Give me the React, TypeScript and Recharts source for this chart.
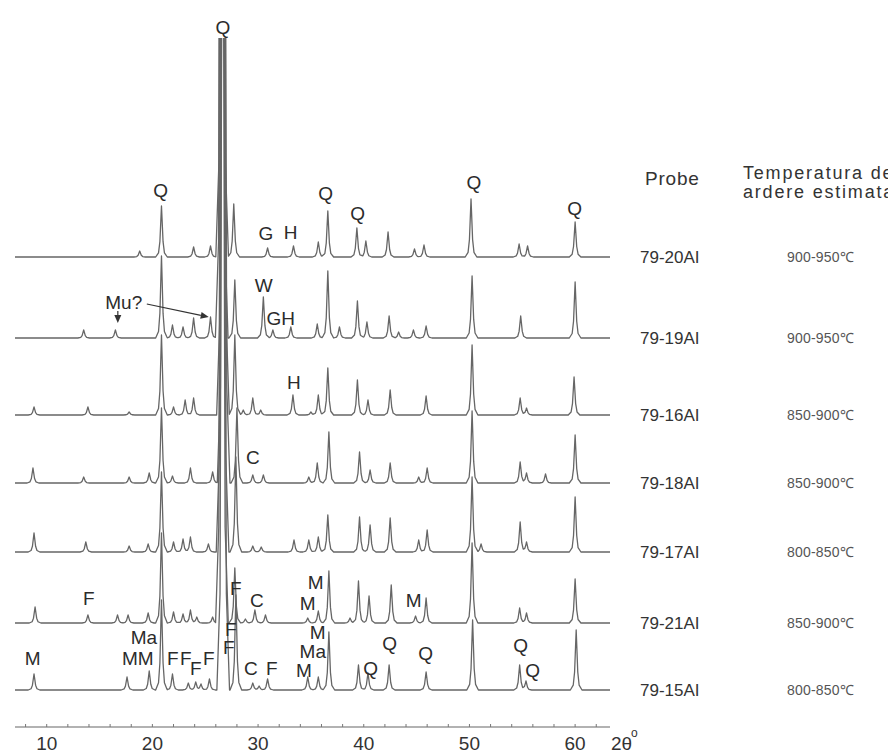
import React from 'react';
import { ComposedChart, Line, XAxis, YAxis, ReferenceDot, ReferenceLine } from 'recharts';

document.body.style.margin = '0';

const X_MIN = 7.0;
const X_MAX = 63.3;
const Y_MAX = 689;

const SAMPLES = ['79-20AI', '79-19AI', '79-16AI', '79-18AI', '79-17AI', '79-21AI', '79-15AI'];
const TEMPERATURES = ['900-950℃', '900-950℃', '850-900℃', '850-900℃', '800-850℃', '850-900℃', '800-850℃'];
// vertical offset of each pattern (stacked)
const BASELINES = [470, 389, 312, 244, 175, 104, 37];

// quartz 101 reflection runs off the top of the plot
const MAIN = 1200;

// [2θ, intensity]
const P_79_20 = [
  [18.8, 6], [20.86, 51], [23.9, 10], [25.5, 11], [26.6, MAIN], [27.7, 53], [30.9, 9],
  [33.35, 11], [35.7, 15], [36.6, 46], [39.35, 29], [40.2, 16], [42.3, 25], [44.8, 8],
  [45.7, 12], [50.15, 58], [54.7, 13], [55.5, 11], [60.0, 35],
];
const P_79_19 = [
  [13.5, 8], [16.5, 8], [20.86, 82], [21.9, 13], [22.9, 11], [23.9, 20], [25.5, 21],
  [26.56, MAIN], [27.8, 58], [30.5, 41], [31.4, 8], [33.1, 11], [35.6, 14], [36.6, 67],
  [37.7, 11], [39.4, 37], [40.3, 16], [42.4, 22], [43.3, 6], [44.7, 8], [45.9, 12],
  [50.25, 62], [54.85, 22], [60.0, 56],
];
const P_79_16 = [
  [8.8, 8], [13.9, 8], [17.8, 3], [20.86, 80], [22.0, 8], [23.1, 15], [23.9, 17],
  [26.68, MAIN], [27.8, 80], [28.6, 5], [29.5, 17], [30.25, 5], [33.3, 20], [35.0, 3],
  [35.7, 20], [36.6, 47], [39.4, 35], [40.4, 15], [42.5, 25], [45.9, 19], [50.25, 70],
  [54.8, 17], [55.4, 7], [59.9, 38],
];
const P_79_18 = [
  [8.7, 15], [13.5, 6], [17.8, 6], [19.7, 10], [20.86, 75], [21.9, 7], [23.6, 15],
  [25.7, 11], [26.74, MAIN], [28.0, 75], [29.5, 8], [30.5, 8], [34.8, 6], [35.6, 20],
  [36.7, 51], [39.6, 31], [40.6, 13], [42.5, 20], [45.2, 6], [46.0, 15], [50.25, 72],
  [54.8, 21], [55.4, 10], [57.2, 9], [60.0, 48],
];
const P_79_17 = [
  [8.8, 19], [13.7, 10], [17.8, 6], [19.6, 8], [20.86, 80], [22.0, 10], [22.9, 13],
  [23.6, 15], [25.3, 8], [26.64, MAIN], [27.9, 95], [29.5, 6], [30.3, 5], [33.4, 12],
  [34.8, 12], [35.7, 15], [36.6, 37], [39.6, 35], [40.6, 27], [42.5, 34], [45.2, 12],
  [46.0, 22], [50.25, 75], [51.1, 8], [54.8, 30], [55.4, 10], [60.0, 55],
];
const P_79_21 = [
  [8.9, 16], [13.9, 8], [16.7, 8], [17.7, 8], [19.6, 10], [20.86, 90], [22.0, 11],
  [22.9, 9], [23.6, 13], [24.2, 6], [25.7, 6], [26.58, MAIN], [27.8, 55], [28.8, 4],
  [29.7, 13], [30.7, 8], [34.7, 5], [35.7, 12], [36.7, 52], [38.7, 5], [39.5, 42],
  [40.5, 27], [42.6, 38], [44.9, 7], [45.9, 25], [50.25, 80], [54.75, 15], [55.4, 10],
  [60.0, 44],
];
const P_79_15 = [
  [8.8, 16], [17.6, 13], [19.7, 19], [20.86, 90], [21.9, 16], [23.4, 7], [24.1, 8],
  [24.6, 6], [25.4, 11], [26.7, MAIN], [27.9, 95], [29.5, 7], [30.1, 4], [30.9, 11],
  [34.7, 13], [35.7, 13], [36.7, 58], [39.5, 25], [40.4, 17], [42.4, 25], [45.9, 18],
  [50.3, 70], [54.75, 25], [55.35, 9], [60.1, 60],
];
const PEAKS = [P_79_20, P_79_19, P_79_16, P_79_18, P_79_17, P_79_21, P_79_15];

// phase labels: [text, 2θ, y]
const LABELS: [string, number, number][] = [
  ['Q', 26.66, 700], ['Q', 20.79, 537], ['G', 30.73, 494], ['H', 33.09, 495],
  ['Q', 36.4, 534], ['Q', 39.43, 514], ['Q', 50.41, 545], ['Q', 59.96, 519],
  ['W', 30.54, 442], ['GH', 32.15, 409], ['Mu?', 17.29, 425], ['H', 33.38, 345],
  ['C', 29.5, 270], ['F', 13.98, 129], ['F', 27.89, 139], ['C', 29.88, 127],
  ['M', 35.46, 145], ['M', 34.7, 124], ['M', 44.73, 127], ['Ma', 19.19, 90],
  ['MM', 18.62, 69], ['M', 8.68, 69], ['F', 21.93, 69], ['F', 23.16, 69],
  ['F', 24.1, 59], ['F', 25.33, 69], ['F', 27.42, 98], ['F', 27.23, 80],
  ['C', 29.31, 59], ['F', 31.3, 59], ['M', 35.65, 95], ['Ma', 35.18, 76],
  ['M', 34.33, 57], ['Q', 40.65, 59], ['Q', 42.45, 84], ['Q', 45.86, 74],
  ['Q', 54.85, 82], ['Q', 55.99, 57],
];

const ARROWS = [
  [[19.47, 423], [25.33, 410]],
  [[16.73, 416], [16.73, 404]],
];

const X_TICKS = [8, 10, 12, 14, 16, 18, 20, 22, 24, 26, 28, 30, 32, 34, 36, 38, 40, 42, 44, 46, 48, 50, 52, 54, 56, 58, 60, 62];

const PEAK_SHAPE = [[-0.55, 0], [-0.28, 0.08], [-0.15, 0.3], [0, 1], [0.15, 0.3], [0.28, 0.08], [0.55, 0]];
const MAIN_SHAPE = [[-0.6, 0], [-0.3, 0.08], [0, 1], [0.3, 0.08], [0.6, 0]];

function profile(shape: number[][], d: number) {
  if (d <= shape[0][0] || d >= shape[shape.length - 1][0]) return 0;
  for (let i = 1; i < shape.length; i++) {
    const [x0, y0] = shape[i - 1];
    const [x1, y1] = shape[i];
    if (d <= x1) return y0 + ((d - x0) / (x1 - x0)) * (y1 - y0);
  }
  return 0;
}

function buildPattern(peaks: number[][], base: number) {
  const xs = new Set<number>([X_MIN, X_MAX]);
  peaks.forEach(([c, h]) => {
    const shape = h === MAIN ? MAIN_SHAPE : PEAK_SHAPE;
    shape.forEach(([dx]) => xs.add(Math.round((c + dx) * 1000) / 1000));
  });
  return Array.from(xs)
    .sort((a, b) => a - b)
    .map((x) => {
      let y = base;
      peaks.forEach(([c, h]) => {
        y += h * profile(h === MAIN ? MAIN_SHAPE : PEAK_SHAPE, x - c);
      });
      return { x, y };
    });
}

const FONT = '"Liberation Sans", Arial, Helvetica, sans-serif';

function AxisTick(props: any) {
  const { x, y, payload } = props;
  const v = payload.value;
  return (
    <g>
      <line x1={x} y1={y} x2={x} y2={y - 3} stroke="#777" strokeWidth={1} />
      {v % 10 === 0 && (
        <text x={x} y={y + 23} textAnchor="middle" fontSize={19} fill="#333" fontFamily={FONT}>
          {v}
        </text>
      )}
    </g>
  );
}

function labelShape(text: string) {
  return (p: any) => (
    <text
      x={p.cx}
      y={p.cy}
      textAnchor="middle"
      dominantBaseline="central"
      fontSize={19}
      fill="#2b2b2b"
      fontFamily={FONT}
    >
      {text}
    </text>
  );
}

function arrowShape(p: any) {
  const { x1, y1, x2, y2 } = p;
  const ang = Math.atan2(y2 - y1, x2 - x1);
  const L = 8;
  const W = 3.5;
  const bx = x2 - L * Math.cos(ang);
  const by = y2 - L * Math.sin(ang);
  const nx = -Math.sin(ang) * W;
  const ny = Math.cos(ang) * W;
  return (
    <g>
      <line x1={x1} y1={y1} x2={bx} y2={by} stroke="#333" strokeWidth={1.2} />
      <polygon points={`${x2},${y2} ${bx + nx},${by + ny} ${bx - nx},${by - ny}`} fill="#333" />
    </g>
  );
}

export default function App() {
  const patterns = PEAKS.map((p, i) => buildPattern(p, BASELINES[i]));
  const plotBottom = 727;
  return (
    <div style={{ position: 'relative', width: 888, height: 754, overflow: 'hidden', background: '#fff' }}>
      <ComposedChart width={888} height={754} margin={{ top: 38, right: 278, bottom: 0, left: 15 }}>
        <XAxis
          dataKey="x"
          type="number"
          domain={[X_MIN, X_MAX]}
          allowDataOverflow
          ticks={X_TICKS}
          interval={0}
          tickSize={0}
          tickMargin={0}
          tickLine={false}
          tick={<AxisTick />}
          axisLine={{ stroke: '#666', strokeWidth: 1.2 }}
          height={27}
        />
        <YAxis hide type="number" domain={[0, Y_MAX]} allowDataOverflow />
        {patterns.map((d, i) => (
          <Line
            key={SAMPLES[i]}
            data={d}
            dataKey="y"
            type="linear"
            stroke="#666"
            strokeWidth={1.3}
            strokeLinejoin="round"
            dot={false}
            activeDot={false}
            isAnimationActive={false}
          />
        ))}
        {ARROWS.map((a, i) => (
          <ReferenceLine
            key={'a' + i}
            segment={[{ x: a[0][0], y: a[0][1] }, { x: a[1][0], y: a[1][1] }]}
            ifOverflow="visible"
            shape={arrowShape}
          />
        ))}
        {LABELS.map(([t, x, y], i) => (
          <ReferenceDot key={'l' + i} x={x} y={y} r={1} ifOverflow="visible" shape={labelShape(t)} />
        ))}
      </ComposedChart>
      <svg width={888} height={754} style={{ position: 'absolute', left: 0, top: 0, pointerEvents: 'none' }}>
        <g fontFamily={FONT} fill="#333">
          <text x={645} y={185} fontSize={19} letterSpacing={0.8}>Probe</text>
          <text x={743} y={179} fontSize={18} letterSpacing={1.8}>Temperatura de</text>
          <text x={743} y={198} fontSize={18} letterSpacing={1.8}>ardere estimata</text>
          {SAMPLES.map((s, i) => {
            const yb = plotBottom - BASELINES[i] + 6;
            return (
              <g key={s}>
                <text x={640} y={yb} fontSize={17}>{s}</text>
                <text x={787} y={yb - 1} fontSize={14} fill="#555" letterSpacing={0.2}>{TEMPERATURES[i]}</text>
              </g>
            );
          })}
          <text x={611} y={750} fontSize={19}>2θ</text>
          <text x={631} y={737} fontSize={12}>o</text>
        </g>
      </svg>
    </div>
  );
}
